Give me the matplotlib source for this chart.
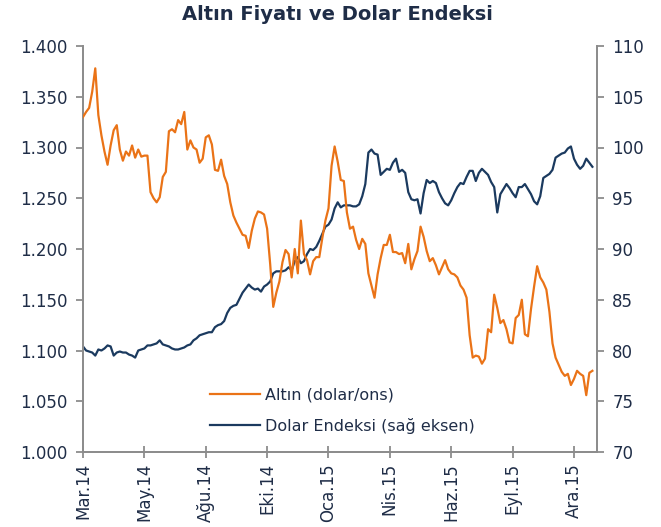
import numpy as np
import matplotlib
matplotlib.use("Agg")
import matplotlib.pyplot as plt
from matplotlib.ticker import FuncFormatter, MultipleLocator

# Altın (dolar/ons), roughly every 3rd trading day
gold = [
    1.330, 1.335, 1.339, 1.355, 1.378, 1.332, 1.312, 1.296, 1.283, 1.302,
    1.317, 1.322, 1.298, 1.287, 1.296, 1.292, 1.302, 1.290, 1.298, 1.291,
    1.292, 1.292, 1.256, 1.250, 1.246, 1.251, 1.271, 1.276, 1.316, 1.318,
    1.315, 1.327, 1.323, 1.335, 1.298, 1.307, 1.300, 1.298, 1.285, 1.289,
    1.310, 1.312, 1.303, 1.278, 1.277, 1.288, 1.272, 1.264, 1.246, 1.233,
    1.226, 1.220, 1.214, 1.213, 1.201, 1.218, 1.230, 1.237, 1.236, 1.234,
    1.220, 1.185, 1.143, 1.157, 1.168, 1.187, 1.199, 1.195, 1.172, 1.200,
    1.176, 1.228, 1.195, 1.189, 1.175, 1.188, 1.192, 1.192, 1.211, 1.228,
    1.240, 1.282, 1.301, 1.286, 1.268, 1.267, 1.236, 1.220, 1.222, 1.209,
    1.200, 1.210, 1.205, 1.176, 1.164, 1.152, 1.175, 1.191, 1.204, 1.204,
    1.214, 1.197, 1.197, 1.195, 1.196, 1.186, 1.205, 1.180, 1.190, 1.198,
    1.222, 1.212, 1.198, 1.188, 1.191, 1.184, 1.175, 1.182, 1.189, 1.180,
    1.176, 1.175, 1.172, 1.164, 1.160, 1.152, 1.115, 1.093, 1.095, 1.094,
    1.087, 1.092, 1.121, 1.118, 1.155, 1.142, 1.127, 1.130, 1.121, 1.108,
    1.107, 1.132, 1.135, 1.150, 1.116, 1.114, 1.141, 1.163, 1.183, 1.172,
    1.167, 1.160, 1.138, 1.107, 1.093, 1.086, 1.079, 1.075, 1.077, 1.066,
    1.072, 1.080, 1.077, 1.075, 1.056, 1.078, 1.080,
]

# Dolar Endeksi (sağ eksen)
dxy = [
    80.4, 80.0, 79.9, 79.8, 79.5, 80.1, 80.0, 80.2, 80.5, 80.4,
    79.5, 79.8, 79.9, 79.8, 79.8, 79.6, 79.5, 79.3, 80.0, 80.1,
    80.2, 80.5, 80.5, 80.6, 80.7, 81.0, 80.6, 80.5, 80.4, 80.2,
    80.1, 80.1, 80.2, 80.3, 80.5, 80.6, 81.0, 81.2, 81.5, 81.6,
    81.7, 81.8, 81.8, 82.3, 82.5, 82.6, 82.9, 83.7, 84.2, 84.4,
    84.5, 85.1, 85.7, 86.1, 86.5, 86.2, 86.0, 86.1, 85.8, 86.3,
    86.5, 86.8, 87.6, 87.8, 87.8, 87.8, 87.9, 88.2, 87.9, 88.8,
    89.2, 88.6, 88.8, 89.5, 90.0, 89.9, 90.2, 90.8, 91.5, 92.2,
    92.4, 92.9, 94.0, 94.6, 94.1, 94.3, 94.3, 94.3, 94.2, 94.2,
    94.4, 95.2, 96.4, 99.5, 99.8, 99.4, 99.3, 97.3, 97.6, 97.9,
    97.8, 98.5, 98.9, 97.6, 97.8, 97.5, 95.6, 94.9, 94.8, 94.9,
    93.5, 95.5, 96.8, 96.5, 96.7, 96.5, 95.6, 95.0, 94.5, 94.3,
    94.8, 95.5, 96.1, 96.5, 96.4, 97.1, 97.7, 97.7, 96.7, 97.5,
    97.9, 97.6, 97.3, 96.6, 96.1, 93.6, 95.4, 95.9, 96.4, 96.0,
    95.5, 95.1, 96.1, 96.1, 96.4, 95.9, 95.4, 94.7, 94.4, 95.2,
    97.0, 97.2, 97.4, 97.8, 99.0, 99.2, 99.4, 99.5, 99.9, 100.1,
    98.9, 98.3, 97.9, 98.2, 98.9, 98.5, 98.1,
]

tick_labels = ["Mar.14", "May.14", "Ağu.14", "Eki.14", "Oca.15",
               "Nis.15", "Haz.15", "Eyl.15", "Ara.15"]
tick_step = 20

navy = "#1b3a5f"
orange = "#ea7317"
text_col = "#1f2d47"
spine_col = "#8c8c8c"

x = np.arange(len(gold))

fig = plt.figure(figsize=(6.61, 5.27), dpi=100)
ax = fig.add_axes([83 / 661, 75 / 527, 514 / 661, 406 / 527])
ax2 = ax.twinx()

l1, = ax.plot(x, gold, color=orange, lw=1.6, label="Altın (dolar/ons)", zorder=3)
l2, = ax2.plot(x, dxy, color=navy, lw=1.6, label="Dolar Endeksi (sağ eksen)")
ax.set_zorder(ax2.get_zorder() + 1)
ax.patch.set_visible(False)

ax.set_xlim(0, 167.5)
ax.set_ylim(1.0, 1.4)
ax2.set_ylim(70, 110)
ax.yaxis.set_major_locator(MultipleLocator(0.05))
ax2.yaxis.set_major_locator(MultipleLocator(5))
ax.yaxis.set_major_formatter(FuncFormatter(lambda v, p: f"{v:.3f}"))

ax.set_xticks(np.arange(len(tick_labels)) * tick_step)
ax.set_xticklabels(tick_labels, rotation=90)

for a in (ax, ax2):
    a.spines["top"].set_visible(False)
    for s in ("left", "right", "bottom"):
        a.spines[s].set_color(spine_col)
        a.spines[s].set_linewidth(1.3)
    a.tick_params(colors=spine_col, labelcolor=text_col, labelsize=12,
                  length=5, width=1.3)
ax.tick_params(axis="x", direction="inout", length=8, pad=4)
ax.tick_params(axis="y", pad=6)
ax2.tick_params(axis="y", pad=6)

fig.text(0.51, 1 - 15 / 527, "Altın Fiyatı ve Dolar Endeksi", ha="center",
         va="center", fontsize=14, fontweight="bold", color=text_col)

fig.legend([l1, l2], [l1.get_label(), l2.get_label()], loc="upper left",
           bbox_to_anchor=(196 / 661, 1 - 373 / 527), frameon=False,
           fontsize=11.5, labelcolor=text_col, handlelength=3.1,
           handletextpad=0.35, labelspacing=0.95)

fig.savefig("out.png", dpi=100)
